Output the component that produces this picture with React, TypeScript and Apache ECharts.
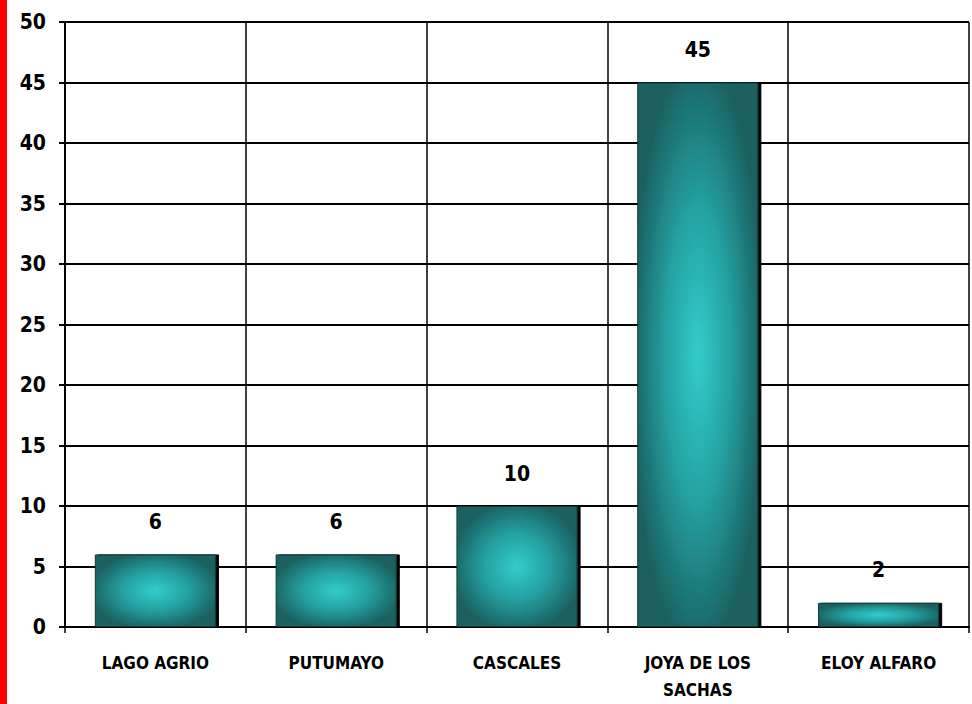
import React, { useEffect, useRef } from "react";
import * as echarts from "echarts";

const categories = ["LAGO AGRIO", "PUTUMAYO", "CASCALES", "JOYA DE LOS\nSACHAS", "ELOY ALFARO"];
const values = [6, 6, 10, 45, 2];
const yTicks = { min: 0, max: 50, interval: 5 };

const FONT = "'DejaVu Sans Condensed', 'Liberation Sans Narrow', 'Liberation Sans', Arial, sans-serif";

export default function App() {
  const ref = useRef<HTMLDivElement>(null);
  useEffect(() => {
    const chart = echarts.init(ref.current!, null, { renderer: "svg" });
    chart.setOption({
      animation: false,
      backgroundColor: "#ffffff",
      graphic: [
        { type: "rect", left: 0, top: 0, shape: { width: 7, height: 704 }, style: { fill: "#ff0000" } },
      ],
      grid: { left: 65, right: 3, top: 22, bottom: 77, containLabel: false, outerBoundsMode: "none" },
      xAxis: {
        type: "category",
        data: categories,
        axisLine: { show: true, lineStyle: { color: "#000", width: 2 } },
        axisTick: { show: true, length: 6, lineStyle: { color: "#000", width: 1.5 } },
        axisLabel: {
          color: "#000",
          fontFamily: FONT,
          fontWeight: "bold",
          fontSize: 17,
          margin: 22,
          lineHeight: 27,
          interval: 0,
        },
        splitLine: { show: true, lineStyle: { color: "#000", width: 1.5 } },
      },
      yAxis: {
        type: "value",
        min: yTicks.min,
        max: yTicks.max,
        interval: yTicks.interval,
        axisLine: { show: true, lineStyle: { color: "#000", width: 2 } },
        axisTick: { show: true, length: 6, lineStyle: { color: "#000", width: 2 } },
        axisLabel: {
          color: "#000",
          fontFamily: FONT,
          fontWeight: "bold",
          fontSize: 21,
          margin: 19,
        },
        splitLine: { show: true, lineStyle: { color: "#000", width: 2 } },
      },
      series: [
        {
          type: "bar",
          data: values,
          barWidth: "67%",
          itemStyle: {
            color: {
              type: "radial",
              x: 0.5,
              y: 0.5,
              r: 0.55,
              colorStops: [
                { offset: 0, color: "#33cccc" },
                { offset: 0.5, color: "#25a0a0" },
                { offset: 1, color: "#1a6060" },
              ],
            },
            borderColor: "#0d3a3a",
            borderWidth: 1,
            shadowColor: "#000",
            shadowOffsetX: 3,
            shadowOffsetY: 0,
            shadowBlur: 0,
          },
          label: {
            show: true,
            position: "top",
            distance: 22,
            color: "#000",
            fontFamily: FONT,
            fontWeight: "bold",
            fontSize: 21,
          },
        },
      ],
    });
    return () => chart.dispose();
  }, []);
  return (
    <div
      ref={ref}
      style={{ position: "fixed", left: 0, top: 0, width: 972, height: 704 }}
    />
  );
}
